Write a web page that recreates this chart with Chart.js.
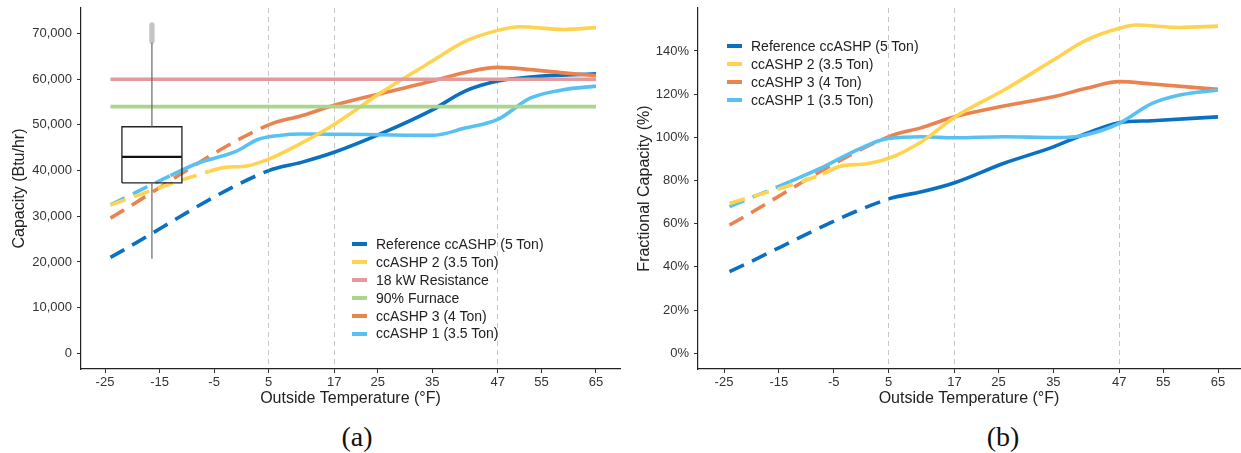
<!DOCTYPE html>
<html>
<head>
<meta charset="utf-8">
<script src="https://cdn.jsdelivr.net/npm/chart.js@4.4.0/dist/chart.umd.min.js"></script>
<style>
  body { margin: 0; background: #fff; width: 1241px; height: 453px; overflow: hidden; position: relative;
         font-family: "Liberation Sans", Arial, sans-serif; }
  canvas { position: absolute; top: 0; }
  .legend { position: absolute; font-size: 14px; color: #222; }
  .legend div { height: 17.9px; line-height: 17.9px; white-space: nowrap; }
  .legend span { display: inline-block; width: 15px; height: 4px; vertical-align: middle; margin-right: 9px; position: relative; top: -1px; }
  .cap { position: absolute; width: 80px; text-align: center; top: 420px; line-height: 34px;
         font-family: "Liberation Serif", "Times New Roman", serif; font-size: 28px; color: #111; }
</style>
</head>
<body>
<canvas id="chartA" width="625" height="412" style="left:0"></canvas>
<canvas id="chartB" width="621" height="412" style="left:620px"></canvas>
<div class="legend" id="legendA" style="left:352px;top:236px"></div>
<div class="legend" id="legendB" style="left:727px;top:38px"></div>
<div class="cap" style="left:317px">(a)</div>
<div class="cap" style="left:963px">(b)</div>
<script>
// axis ticks
const xTicks = [-25, -15, -5, 5, 17, 25, 35, 47, 55, 65];
const markedTemps = [5, 17, 47];
const btuTicks = [0, 10000, 20000, 30000, 40000, 50000, 60000, 70000];
const pctTicks = [0, 20, 40, 60, 80, 100, 120, 140];

// colours
const cRef = '#0a70c2', cHp2 = '#ffd34f', cRes = '#e39a9c', cFurn = '#abd48c', cHp3 = '#ea834f', cHp1 = '#58c1f1';

// (a) capacity, Btu/hr
const refTempA = [-24, 5, 11, 17, 26, 35, 41, 47, 53, 65];
const refBtu   = [21000, 40000, 41800, 44000, 48300, 53300, 57400, 59600, 60500, 61200];
const hp2TempA = [-24, -6, -3, 1, 5, 11, 17, 26, 35, 41, 47, 51, 59, 65];
const hp2Btu   = [32500, 39800, 40700, 41000, 42500, 46000, 50100, 57400, 64000, 68300, 70700, 71500, 70900, 71300];
const hp3TempA = [-24, 5, 11, 17, 26, 35, 41, 47, 53, 59, 65];
const hp3Btu   = [29600, 50000, 52000, 54300, 57000, 59600, 61500, 62600, 62100, 61400, 60800];
const hp1TempA = [-24, -13, -8, -1, 3, 7, 11, 23, 35, 41, 47, 53, 59, 65];
const hp1Btu   = [32500, 38900, 41600, 44200, 46800, 47700, 48000, 47900, 47700, 49300, 51200, 55900, 57700, 58500];
const flatTemp = [-24, 65];
const resistanceBtu = [60000, 60000];
const furnaceBtu = [54000, 54000];

// box plot of design loads (whisker low, q1, median, q3, whisker high)
const boxTemp = -16.4, boxHalf = 5.5;
const boxStats = [20700, 37300, 43000, 49600, 68000];
const boxOutliers = [68300, 68700, 69100, 69500, 69900, 70300, 70700, 71100, 71500, 71900];

// (b) fractional capacity, %
const refTempB = [-24, 5, 11, 17, 26, 35, 41, 47, 53, 65];
const refPct   = [37.8, 71.5, 74.8, 79, 88, 95.6, 101.8, 106.8, 107.7, 109.5];
const hp2TempB = [-24, -7, -4, 1, 5, 11, 17, 26, 35, 41, 47, 50, 58, 65];
const hp2Pct   = [69.4, 83, 86.5, 87.8, 90.3, 98, 109.3, 121.9, 135.8, 145, 150.5, 152, 150.9, 151.5];
const hp3TempB = [-24, 5, 11, 17, 26, 35, 41, 47, 53, 65];
const hp3Pct   = [59.4, 100.3, 104.5, 109.5, 114.5, 118.8, 122.7, 125.8, 124.7, 122.2];
const hp1TempB = [-24, -13, -7.5, -1.5, 3.5, 5, 11, 17, 26, 35, 39, 43, 47, 53, 58, 65];
const hp1Pct   = [67.9, 79.5, 85.6, 93.3, 98.7, 99.5, 100.3, 99.8, 100.3, 99.9, 100.3, 102.6, 106.5, 115.7, 119.6, 121.9];

const pts = (xs, ys) => xs.map((x, i) => ({x: x, y: ys[i]}));

function curve(label, xs, ys, color, cutoff, order) {
  return {
    label: label, data: pts(xs, ys), borderColor: color, backgroundColor: color,
    borderWidth: 3.6, pointRadius: 0, fill: false, order: order,
    cubicInterpolationMode: 'monotone',
    segment: { borderDash: c => c.p1.parsed.x <= cutoff ? [16, 9] : undefined }
  };
}

function plain(data, color, width, order) {
  return { label: '', data: data, borderColor: color, backgroundColor: color, borderWidth: width,
           pointRadius: 0, tension: 0, fill: false, order: order };
}

const bx0 = boxTemp - boxHalf, bx1 = boxTemp + boxHalf;
const boxSets = [
  plain([{x: boxTemp, y: boxStats[0]}, {x: boxTemp, y: boxStats[1]}], '#666', 1.2, 0),
  plain([{x: boxTemp, y: boxStats[3]}, {x: boxTemp, y: boxStats[4]}], '#666', 1.2, 0),
  plain([{x: bx0, y: boxStats[1]}, {x: bx0, y: boxStats[3]}, {x: bx1, y: boxStats[3]},
         {x: bx1, y: boxStats[1]}, {x: bx0, y: boxStats[1]}], '#222', 1.3, 0),
  plain([{x: bx0, y: boxStats[2]}, {x: bx1, y: boxStats[2]}], '#111', 2.4, 0),
  Object.assign(plain(boxOutliers.map(v => ({x: boxTemp, y: v})), '#c4c4c4', 0, 0),
                { showLine: false, pointRadius: 2.6, pointBorderWidth: 0 })
];

const setsA = [
  curve('Reference ccASHP (5 Ton)', refTempA, refBtu, cRef, 5, 6),
  curve('ccASHP 2 (3.5 Ton)', hp2TempA, hp2Btu, cHp2, -6, 3),
  curve('18 kW Resistance', flatTemp, resistanceBtu, cRes, -99, 1),
  curve('90% Furnace', flatTemp, furnaceBtu, cFurn, -99, 2),
  curve('ccASHP 3 (4 Ton)', hp3TempA, hp3Btu, cHp3, 5, 5),
  curve('ccASHP 1 (3.5 Ton)', hp1TempA, hp1Btu, cHp1, -13, 4)
];

const setsB = [
  curve('Reference ccASHP (5 Ton)', refTempB, refPct, cRef, 5, 4),
  curve('ccASHP 2 (3.5 Ton)', hp2TempB, hp2Pct, cHp2, -7, 1),
  curve('ccASHP 3 (4 Ton)', hp3TempB, hp3Pct, cHp3, 5, 3),
  curve('ccASHP 1 (3.5 Ton)', hp1TempB, hp1Pct, cHp1, -13, 2)
];

function makeChart(id, datasets, xMin, xMax, yMin, yMax, yTicks, yFmt, yTitle, yWidth, yTitlePad, padRight) {
  new Chart(document.getElementById(id), {
    type: 'line',
    data: { datasets: datasets },
    options: {
      responsive: false, animation: false, devicePixelRatio: 1,
      layout: { padding: { left: 0, right: padRight, top: 8, bottom: 0 } },
      plugins: { legend: { display: false }, tooltip: { enabled: false } },
      scales: {
        x: {
          type: 'linear', min: xMin, max: xMax,
          afterBuildTicks: s => { s.ticks = xTicks.map(v => ({value: v})); },
          afterFit: s => { s.height = 43; s.paddingLeft = 0; s.paddingRight = 0; },
          ticks: { color: '#333', font: { size: 13, family: 'Liberation Sans' }, padding: 2, maxRotation: 0,
                   callback: v => String(v) },
          grid: {
            color: c => (c.tick && markedTemps.includes(c.tick.value)) ? '#c6c6c6' : 'rgba(0,0,0,0)',
            lineWidth: 1, tickColor: '#333', tickLength: 4
          },
          border: { color: '#222', width: 1.2, dash: [5, 4] },
          title: { display: true, text: 'Outside Temperature (°F)', color: '#222',
                   font: { size: 16, family: 'Liberation Sans' }, padding: { top: 0, bottom: 3.4 } }
        },
        y: {
          min: yMin, max: yMax,
          afterBuildTicks: s => { s.ticks = yTicks.map(v => ({value: v})); },
          afterFit: s => { s.width = yWidth; s.paddingTop = 0; s.paddingBottom = 0; },
          ticks: { color: '#333', font: { size: 13, family: 'Liberation Sans' }, padding: 5, callback: yFmt },
          grid: { drawOnChartArea: false, tickColor: '#333', tickLength: 4 },
          border: { color: '#222', width: 1.2 },
          title: { display: true, text: yTitle, color: '#222',
                   font: { size: 16, family: 'Liberation Sans' }, padding: { top: yTitlePad, bottom: 0 } }
        }
      }
    }
  });
}

makeChart('chartA', setsA.concat(boxSets), -29.4, 69.4, -3443, 75600, btuTicks,
          v => v.toLocaleString('en-US'), 'Capacity (Btu/hr)', 81, 10.4, 5);
makeChart('chartB', setsB, -29.74, 69.0, -7.27, 159.9, pctTicks,
          v => v + '%', 'Fractional Capacity (%)', 78, 15.4, 1);

function legend(id, sets) {
  document.getElementById(id).innerHTML = sets.map(d =>
    '<div><span style="background:' + d.borderColor + '"></span>' + d.label + '</div>').join('');
}
legend('legendA', setsA);
legend('legendB', setsB);
</script>
</body>
</html>
